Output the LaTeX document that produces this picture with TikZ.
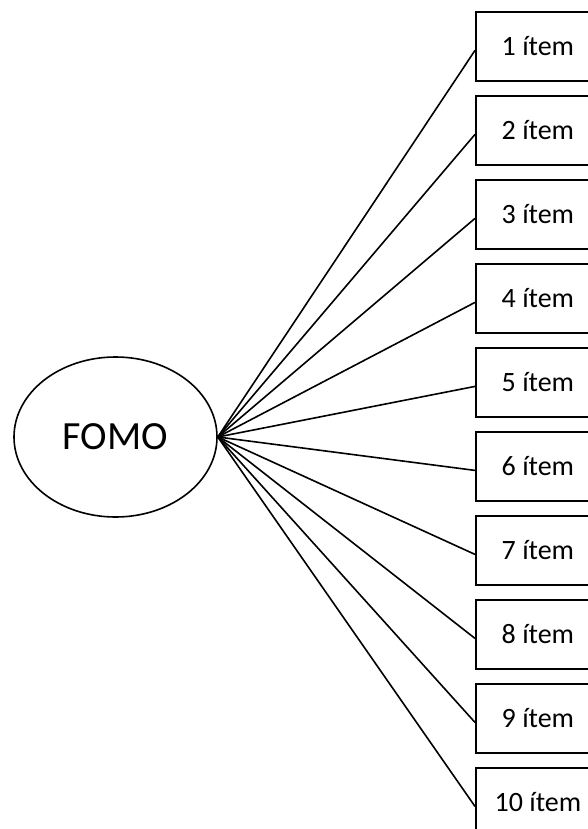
\documentclass[tikz,border=0pt]{standalone}
\usepackage{fontspec}
\setmainfont{Carlito}
\usetikzlibrary{shapes.geometric}
\begin{document}
\begin{tikzpicture}[x=1pt,y=-1pt,
  itembox/.style={draw=black,line width=1.8pt,rectangle,minimum width=124pt,minimum height=69pt,inner sep=0pt,anchor=north west,font=\fontsize{28}{32}\selectfont},
  fomobox/.style={draw=black,line width=1.6pt,ellipse,minimum width=203pt,minimum height=160pt,inner sep=0pt,font=\fontsize{40}{46}\selectfont},
  link/.style={draw=black,line width=1.6pt}]
\useasboundingbox (0,0) rectangle (588,829);
\clip (0,0) rectangle (588,829);
\fill[white] (0,0) rectangle (588,829);
\node[fomobox] (fomo) at (115.5,437) {FOMO};
\foreach \i in {1,...,10}{
  \node[itembox] (b\i) at (475,{11+84*(\i-1)}) {\i{} ítem};
  \draw[link] (fomo.east) -- ([yshift=-4pt]b\i.west);
}
\end{tikzpicture}
\end{document}
